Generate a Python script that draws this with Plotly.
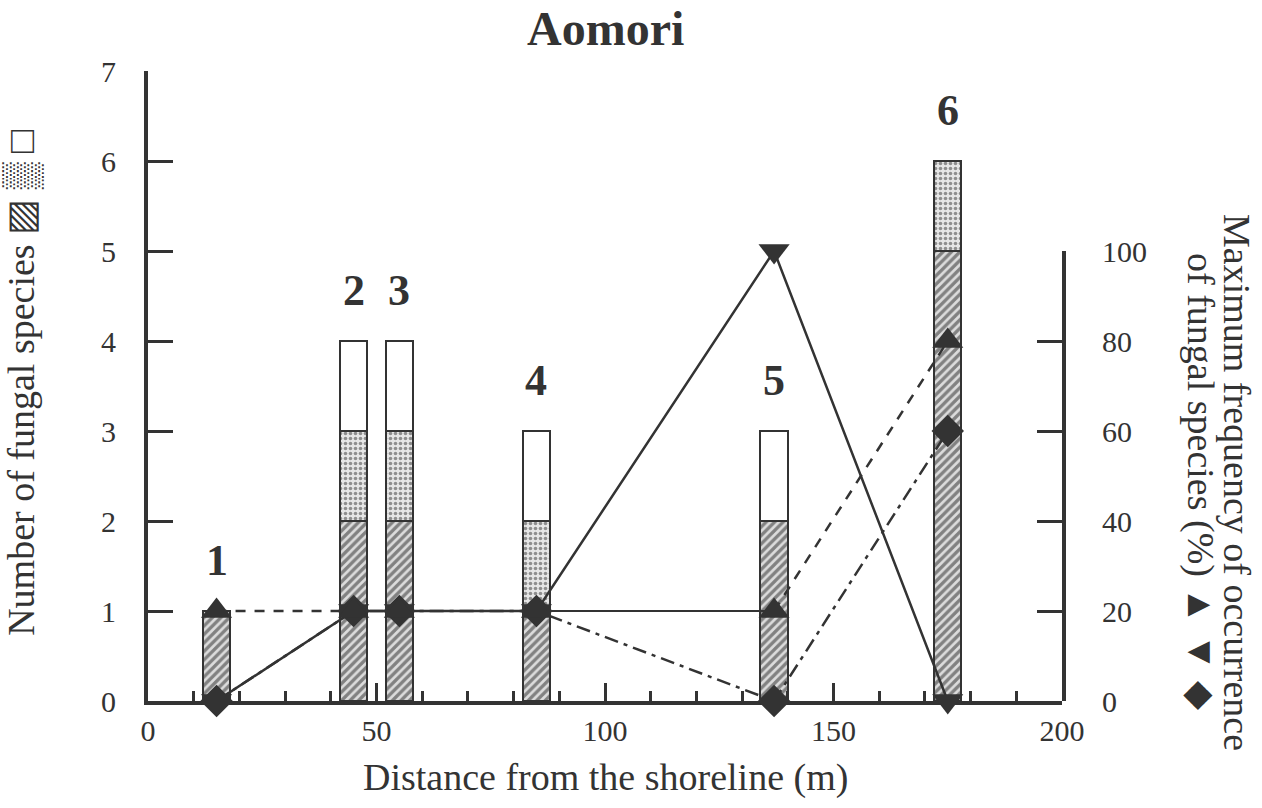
import plotly.graph_objects as go

# Sampling sites along the transect
site_labels = ["1", "2", "3", "4", "5", "6"]
distance_m = [15, 45, 55, 85, 137, 175]

# Number of fungal species per site, split into three groups (stacked)
species_hatched = [1, 2, 2, 1, 2, 5]
species_dotted = [0, 1, 1, 1, 0, 1]
species_white = [0, 1, 1, 1, 1, 0]

# Maximum frequency of occurrence (%) for three species groups
freq_up = [20, 20, 20, 20, 20, 80]      # ▲
freq_down = [0, 20, 20, 20, 100, 0]     # ▼
freq_diamond = [0, 20, 20, 20, 0, 60]   # ◆

INK = "#333333"
SERIF = "Liberation Serif, Times New Roman, serif"
BAR_W = 6

fig = go.Figure()

fig.add_bar(
    x=distance_m, y=species_hatched, width=BAR_W, name="hatched",
    marker=dict(color="white", line=dict(color=INK, width=2.5),
                pattern=dict(shape="/", fgcolor="#262626", bgcolor="#dcdcdc", size=6, solidity=0.55)),
)
fig.add_bar(
    x=distance_m, y=species_dotted, width=BAR_W, name="dotted",
    marker=dict(color="white", line=dict(color=INK, width=2.5),
                pattern=dict(shape=".", fgcolor="#333333", bgcolor="#e6e6e6", size=5, solidity=0.4)),
)
fig.add_bar(
    x=distance_m, y=species_white, width=BAR_W, name="white",
    marker=dict(color="white", line=dict(color=INK, width=2.5)),
)

line_w = 2.5

# ▼ series: solid line
fig.add_scatter(
    x=distance_m, y=freq_down, yaxis="y2", mode="lines+markers", cliponaxis=False,
    line=dict(color=INK, width=line_w),
    marker=dict(symbol="triangle-down", size=27, color=INK),
)

# ◆ series: dash-dot line
fig.add_scatter(
    x=distance_m, y=freq_diamond, yaxis="y2", mode="lines+markers", cliponaxis=False,
    line=dict(color=INK, width=line_w, dash="14px,6px,4px,6px"),
    marker=dict(symbol="diamond", size=25, color=INK),
)

# ▲ series: dashed at the ends, solid through the middle sites
fig.add_scatter(
    x=distance_m[0:2], y=freq_up[0:2], yaxis="y2", mode="lines", cliponaxis=False,
    line=dict(color=INK, width=line_w, dash="10px,9px"),
)
fig.add_scatter(
    x=distance_m[1:5], y=freq_up[1:5], yaxis="y2", mode="lines", cliponaxis=False,
    line=dict(color=INK, width=2),
)
fig.add_scatter(
    x=distance_m[4:6], y=freq_up[4:6], yaxis="y2", mode="lines", cliponaxis=False,
    line=dict(color=INK, width=line_w, dash="10px,9px"),
)
fig.add_scatter(
    x=distance_m, y=freq_up, yaxis="y2", mode="markers", cliponaxis=False,
    marker=dict(symbol="triangle-up", size=27, color=INK),
)

annotations = []
totals = [a + b + c for a, b, c in zip(species_hatched, species_dotted, species_white)]
for lab, xv, tot in zip(site_labels, distance_m, totals):
    annotations.append(dict(
        x=xv, y=tot + 0.56, xref="x", yref="y", text=f"<b>{lab}</b>",
        showarrow=False, xanchor="center", yanchor="middle",
        font=dict(family=SERIF, size=44, color=INK),
    ))

annotations += [
    dict(x=0.5, y=1, xref="paper", yref="paper", yshift=43, text="<b>Aomori</b>",
         showarrow=False, xanchor="center", yanchor="middle",
         font=dict(family=SERIF, size=48, color=INK)),
    dict(x=0.5, y=0, xref="paper", yref="paper", yshift=-76,
         text="Distance from the shoreline (m)",
         showarrow=False, xanchor="center", yanchor="middle",
         font=dict(family=SERIF, size=38, color=INK)),
    dict(x=0, y=0.505, xref="paper", yref="paper", xshift=-126, textangle=-90,
         text="Number of fungal species ▨ ▒ □",
         showarrow=False, xanchor="center", yanchor="middle",
         font=dict(family=SERIF, size=38, color=INK)),
    dict(x=1, y=0.3476, xref="paper", yref="paper", xshift=175, textangle=90,
         text="Maximum frequency of occurrence",
         showarrow=False, xanchor="center", yanchor="middle",
         font=dict(family=SERIF, size=38, color=INK)),
    dict(x=1, y=0.3476, xref="paper", yref="paper", xshift=139, textangle=90,
         text="of fungal species (%) ▲ ▼ ◆",
         showarrow=False, xanchor="center", yanchor="middle",
         font=dict(family=SERIF, size=38, color=INK)),
]

tick_font = dict(family=SERIF, size=30, color=INK)

fig.update_layout(
    width=1262, height=808,
    margin=dict(l=148, r=200, t=71, b=107),
    paper_bgcolor="white", plot_bgcolor="rgba(0,0,0,0)",
    barmode="stack", bargap=0, showlegend=False,
    annotations=annotations,
    xaxis=dict(
        range=[0, 200], anchor="y", showgrid=False, zeroline=False,
        showline=True, linecolor=INK, linewidth=4,
        tickvals=[0, 50, 100, 150, 200], ticks="inside", ticklen=18, tickwidth=3,
        tickcolor=INK, tickfont=tick_font, ticklabelstandoff=0,
        minor=dict(dtick=10, ticks="inside", ticklen=10, tickwidth=3, tickcolor=INK, showgrid=False),
    ),
    yaxis=dict(
        range=[0, 7], domain=[0, 1], showgrid=False, zeroline=False,
        showline=True, linecolor=INK, linewidth=4,
        dtick=1, ticks="inside", ticklen=25, tickwidth=3, tickcolor=INK,
        tickfont=tick_font, ticklabelstandoff=22,
    ),
    yaxis2=dict(
        range=[0, 100], domain=[0, 5 / 7], anchor="x", side="right",
        showgrid=False, zeroline=False,
        showline=True, linecolor=INK, linewidth=4,
        dtick=20, ticks="inside", ticklen=25, tickwidth=3, tickcolor=INK,
        tickfont=tick_font, ticklabelstandoff=30,
    ),
)

fig.write_html("out.html")
